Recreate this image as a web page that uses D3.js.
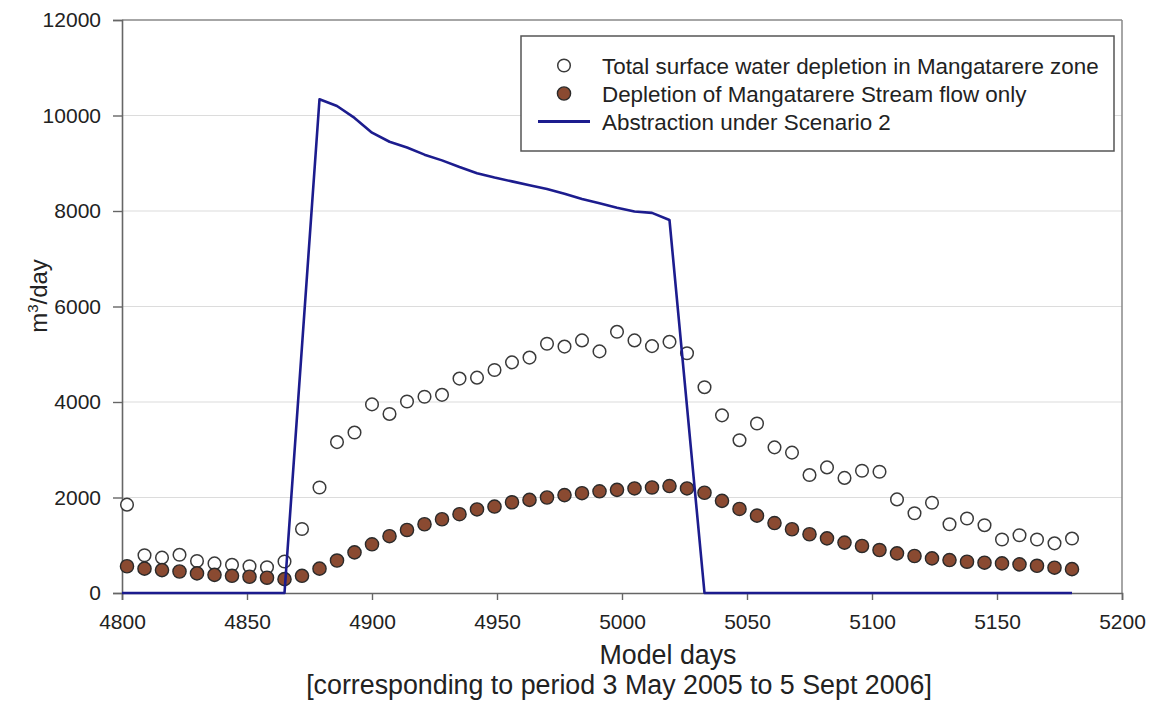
<!DOCTYPE html>
<html>
<head>
<meta charset="utf-8">
<script src="https://cdn.jsdelivr.net/npm/d3@7"></script>
<style>
  html, body { margin: 0; padding: 0; background: #fff; }
  svg { display: block; font-family: "Liberation Sans", Arial, sans-serif; }
</style>
</head>
<body>
<svg id="chart" width="1156" height="704"></svg>
<script>
// ---- Data ----
const days = [4802,4809,4816,4823,4830,4837,4844,4851,4858,4865,4872,4879,4886,4893,4900,4907,4914,4921,4928,4935,4942,4949,4956,4963,4970,4977,4984,4991,4998,5005,5012,5019,5026,5033,5040,5047,5054,5061,5068,5075,5082,5089,5096,5103,5110,5117,5124,5131,5138,5145,5152,5159,5166,5173,5180];
const totalDepletion = [1850,790,740,800,670,620,590,560,540,660,1340,2210,3160,3360,3950,3750,4010,4110,4150,4490,4510,4670,4830,4930,5220,5160,5290,5060,5470,5290,5170,5260,5020,4310,3720,3200,3550,3050,2940,2470,2630,2410,2560,2540,1960,1670,1890,1440,1560,1420,1120,1210,1120,1040,1140];
const streamDepletion = [560,510,480,450,410,380,360,340,320,290,360,510,680,850,1020,1190,1320,1440,1545,1650,1750,1810,1900,1950,2000,2050,2090,2130,2160,2190,2210,2240,2190,2100,1930,1760,1620,1465,1335,1230,1145,1055,985,900,830,775,725,690,655,635,620,600,570,530,500];
const abstractionDays = [4800,4865,4879,4886,4893,4900,4907,4914,4921,4928,4935,4942,4949,4956,4963,4970,4977,4984,4991,4998,5005,5012,5019,5033,5180];
const abstractionValues = [0,0,10340,10200,9950,9640,9450,9330,9180,9060,8920,8790,8700,8620,8540,8460,8360,8250,8160,8070,7990,7960,7810,0,0];
const xTicks = [4800,4850,4900,4950,5000,5050,5100,5150,5200];
const yTicks = [0,2000,4000,6000,8000,10000,12000];
const seriesNames = ["Total surface water depletion in Mangatarere zone","Depletion of Mangatarere Stream flow only","Abstraction under Scenario 2"];
const xTitle = "Model days";
const xSubtitle = "[corresponding to period 3 May 2005 to 5 Sept 2006]";

// ---- Layout ----
const svg = d3.select("#chart");
const pLeft = 122, pRight = 1122, pTop = 20, pBottom = 593;
const x = d3.scaleLinear().domain([4800, 5200]).range([pLeft, pRight]);
const y = d3.scaleLinear().domain([0, 12000]).range([pBottom, pTop]);
const textColor = "#222";
const brown = "#8a4a31";
const blue = "#1c1c8e";

// gridlines
svg.append("g").selectAll("line").data(yTicks.filter(d => d > 0 && d < 12000)).join("line")
  .attr("x1", pLeft).attr("x2", pRight)
  .attr("y1", d => y(d)).attr("y2", d => y(d))
  .attr("stroke", "#dcdcdc").attr("stroke-width", 1.2);

// frame: top and right
svg.append("line").attr("x1", pLeft).attr("x2", pRight).attr("y1", pTop).attr("y2", pTop)
  .attr("stroke", "#888").attr("stroke-width", 1.5);
svg.append("line").attr("x1", pRight).attr("x2", pRight).attr("y1", pTop).attr("y2", pBottom)
  .attr("stroke", "#888").attr("stroke-width", 1.5);

// axes
const xAxis = svg.append("g").attr("transform", `translate(0,${pBottom})`)
  .call(d3.axisBottom(x).tickValues(xTicks).tickFormat(d3.format("d")).tickSize(7).tickPadding(14));
const yAxis = svg.append("g").attr("transform", `translate(${pLeft},0)`)
  .call(d3.axisLeft(y).tickValues(yTicks).tickFormat(d3.format("d")).tickSize(9).tickPadding(12));
[xAxis, yAxis].forEach(g => {
  g.select(".domain").attr("stroke", "#666").attr("stroke-width", 1.6);
  g.selectAll(".tick line").attr("stroke", "#666").attr("stroke-width", 1.4);
  g.selectAll(".tick text").attr("fill", textColor).attr("font-size", 21)
    .attr("font-family", "'Liberation Sans', Arial, sans-serif");
});

// total depletion (open circles)
svg.append("g").selectAll("circle").data(days).join("circle")
  .attr("cx", (d) => x(d)).attr("cy", (d, i) => y(totalDepletion[i])).attr("r", 6.3)
  .attr("fill", "#fff").attr("stroke", "#3a3a3a").attr("stroke-width", 1.5);

// stream depletion (filled circles)
svg.append("g").selectAll("circle").data(days).join("circle")
  .attr("cx", (d) => x(d)).attr("cy", (d, i) => y(streamDepletion[i])).attr("r", 6.6)
  .attr("fill", brown).attr("stroke", "#2a2a2a").attr("stroke-width", 1.4);

// abstraction line
const lineGen = d3.line().x(d => x(d[0])).y(d => y(d[1]));
svg.append("path").datum(abstractionDays.map((d, i) => [d, abstractionValues[i]]))
  .attr("d", lineGen).attr("fill", "none").attr("stroke", blue).attr("stroke-width", 2.6)
  .attr("stroke-linejoin", "round");

// axis titles
svg.append("text").attr("x", 668).attr("y", 664).attr("text-anchor", "middle")
  .attr("font-size", 26.8).attr("fill", textColor).text(xTitle);
svg.append("text").attr("x", 619).attr("y", 694).attr("text-anchor", "middle")
  .attr("font-size", 26.8).attr("fill", textColor).text(xSubtitle);
const yl = svg.append("text").attr("transform", "translate(47,296) rotate(-90)")
  .attr("text-anchor", "middle").attr("font-size", 24).attr("fill", textColor);
yl.append("tspan").text("m");
yl.append("tspan").attr("font-size", 15).attr("dy", -9).text("3");
yl.append("tspan").attr("dy", 9).text("/day");

// legend
const lg = svg.append("g");
lg.append("rect").attr("x", 521).attr("y", 36).attr("width", 593).attr("height", 115)
  .attr("fill", "#fff").attr("stroke", "#555").attr("stroke-width", 1.5);
const rows = [65.5, 93.5, 121.5];
lg.append("circle").attr("cx", 564).attr("cy", rows[0]).attr("r", 6.3)
  .attr("fill", "#fff").attr("stroke", "#3a3a3a").attr("stroke-width", 1.5);
lg.append("circle").attr("cx", 564).attr("cy", rows[1]).attr("r", 6.6)
  .attr("fill", brown).attr("stroke", "#2a2a2a").attr("stroke-width", 1.4);
lg.append("line").attr("x1", 538).attr("x2", 590).attr("y1", rows[2]).attr("y2", rows[2])
  .attr("stroke", blue).attr("stroke-width", 2.8);
lg.selectAll("text.lt").data(seriesNames).join("text").attr("class", "lt")
  .attr("x", 602).attr("y", (d, i) => rows[i]).attr("dy", "0.36em")
  .attr("font-size", 22.4).attr("fill", textColor).text(d => d);
</script>
</body>
</html>
